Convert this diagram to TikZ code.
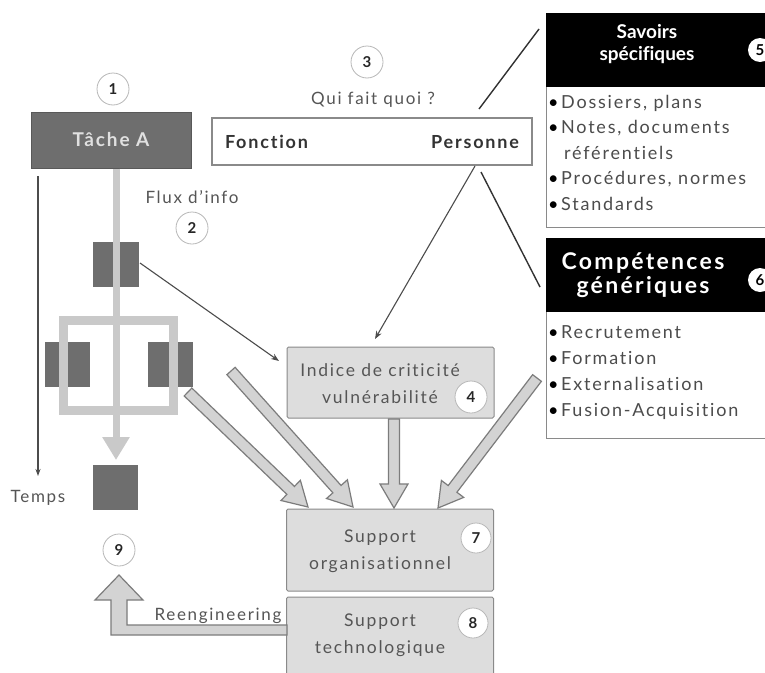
\documentclass[tikz,border=0pt]{standalone}
\usepackage{fontspec}
\setmainfont[LetterSpace=10, Ligatures=NoCommon]{Lato}
\newfontfamily\plainlato[Ligatures=NoCommon]{Lato}
\usetikzlibrary{calc,arrows.meta}

\definecolor{darkbox}{HTML}{6E6E6E}
\definecolor{flowgray}{HTML}{C9C9C9}
\definecolor{panelgray}{HTML}{DDDDDD}
\definecolor{edgegray}{HTML}{8A8A8A}
\definecolor{txtgray}{HTML}{555555}
\definecolor{arrowfill}{HTML}{D3D3D3}
\definecolor{arrowedge}{HTML}{7C7C7C}

\tikzset{
  numcirc/.style={circle, draw=black!28, fill=white, line width=0.8pt,
    minimum size=32pt, inner sep=0pt, text=black!85,
    font=\plainlato\fontsize{15}{15}\selectfont\bfseries},
  smallcirc/.style={circle, fill=white, minimum size=24pt, inner sep=0pt,
    text=black, font=\plainlato\fontsize{15}{15}\selectfont\bfseries},
  panel/.style={draw=edgegray, fill=panelgray, line width=1pt,
    rounded corners=1.5pt, minimum width=207pt},
  paneltext/.style={text=txtgray, font=\fontsize{17.5}{27}\selectfont, align=center},
  label/.style={text=txtgray, font=\fontsize{17}{20}\selectfont},
  item/.style={anchor=base west, inner sep=0pt, text=black!70,
    font=\fontsize{18}{20}\selectfont},
  darkrect/.style={fill=darkbox},
  flow/.style={draw=flowgray, line width=7pt},
  thinarrow/.style={draw=black!70, line width=1.1pt, -{Stealth[length=8pt,width=6pt]}},
  thinline/.style={draw=black!80, line width=1.4pt},
  blkarrow/.style={draw=arrowedge, fill=arrowfill, line width=1.2pt, line join=miter},
}

% hollow block arrow from #1 to #2
\newcommand\blockarrow[2]{%
  \coordinate (ba-c) at ($(#2)!24pt!(#1)$);
  \path[blkarrow]
    ($(#1)!5.5pt!90:(#2)$) -- ($(ba-c)!5.5pt!90:(#2)$) --
    ($(ba-c)!14pt!90:(#2)$) -- (#2) -- ($(ba-c)!14pt!-90:(#2)$) --
    ($(ba-c)!5.5pt!-90:(#2)$) -- ($(#1)!5.5pt!-90:(#2)$) -- cycle;
}
\newcommand\bul{\textcolor{black}{•}\hspace{2.5pt}}

\begin{document}
\begin{tikzpicture}[x=1pt, y=-1pt]
\useasboundingbox (0,0) rectangle (765,672);
\clip (0,0) rectangle (765,672);
\fill[white] (0,0) rectangle (765,672);

% ---- task flow on the left ----
\node[numcirc] (n1) at (113,89) {1};
\node[fill=darkbox, draw=black!65, line width=1pt, minimum width=160pt,
      minimum height=56pt, text=black!12, font=\fontsize{19}{20}\selectfont\bfseries]
      (task) at (111,140) {Tâche A};

\fill[darkrect] (93,242) rectangle (139,287);
\coordinate (pairR) at (140,263);
\fill[darkrect] (45,342) rectangle (90,387);
\fill[darkrect] (148,342) rectangle (193,387);
\node[fill=darkbox, minimum width=45pt, minimum height=45pt, inner sep=0pt] (endsq) at (115.5,487.5) {};

\draw[flowgray, line width=9pt] (63.5,320.5) rectangle (173,410.5);
\coordinate (flowend) at (116,460);
\draw[flow, -{Triangle[length=23pt,width=26pt]}] (task.south -| flowend) -- (flowend);

\node[label] (flux) at (192,197) {Flux d'info};
\node[numcirc] (n2) at (192,228) {2};

\coordinate (t0) at (38,176);
\coordinate (t1) at (38,476);
\draw[draw=black!70, line width=1.1pt, -{Stealth[length=7pt,width=5pt]}] (t0) -- (t1);
\node[label] (temps) at (38,498) {Temps};

% ---- who does what ----
\node[numcirc] (n3) at (367,62) {3};
\node[label] (qui) at (373,100) {Qui fait quoi ?};
\node[draw=edgegray, line width=1.2pt, fill=white, minimum width=320pt,
      minimum height=47pt, text width=294pt, inner xsep=13pt,
      text=black!80, font=\fontsize{18}{20}\selectfont\bfseries]
      (fp) at (372,141.5) {Fonction\hfill Personne};

% ---- specific knowledge ----
\draw[edgegray, line width=1pt, fill=white] (546,13) rectangle (775,227);
\node[fill=black, minimum width=229pt, minimum height=74pt, anchor=north west,
      inner sep=0pt] (savh) at (546,13) {};
\node[text=white, align=center, font=\plainlato\fontsize{19}{22}\selectfont\bfseries]
      (savt) at (647,44) {Savoirs\\spécifiques};
\node[smallcirc] (n5) at (760,50) {5};
\node[item] (s1) at (548,108) {\bul Dossiers, plans};
\node[item] (s2) at (548,133.5) {\bul Notes, documents};
\node[item] (s3) at (564,159) {référentiels};
\node[item] (s4) at (548,184.5) {\bul Procédures, normes};
\node[item] (s5) at (548,210) {\bul Standards};

% ---- generic skills ----
\draw[edgegray, line width=1pt, fill=white] (546,238) rectangle (775,438);
\node[fill=black, minimum width=229pt, minimum height=74pt, anchor=north west,
      inner sep=0pt] (comph) at (546,238) {};
\node[text=white, align=center, font=\fontsize{23}{24}\selectfont\bfseries]
      (compt) at (643,275) {Compétences\\génériques};
\node[smallcirc] (n6) at (760,280) {6};
\node[item] (c1) at (548,338) {\bul Recrutement};
\node[item] (c2) at (548,364) {\bul Formation};
\node[item] (c3) at (548,390) {\bul Externalisation};
\node[item] (c4) at (548,416) {\bul Fusion-Acquisition};

\coordinate (fpA) at (479,109);
\coordinate (savA) at (539,29);
\draw[thinline] (fpA) -- (savA);
\coordinate (fpB) at (481,172);
\coordinate (compA) at (540,287);
\draw[thinline] (fpB) -- (compA);

% ---- criticality index ----
\node[panel, minimum height=71pt] (ind) at (390.5,382.5) {};
\node[paneltext] (indt) at (380,384) {Indice de criticité\\vulnérabilité};
\node[numcirc] (n4) at (471,397) {4};

\coordinate (fpC) at (475,166);
\coordinate (indN) at (375,339);
\draw[thinarrow] (fpC) -- (indN);
\coordinate (indW) at (279,361);
\draw[thinarrow] (pairR) -- (indW);

% ---- supports ----
\node[panel, minimum height=82pt] (org) at (390,550) {};
\node[paneltext] (orgt) at (380,551) {Support\\organisationnel};
\node[numcirc, minimum size=30pt] (n7) at (476,538) {7};

\node[panel, minimum height=84pt] (tech) at (390,639) {};
\node[paneltext] (techt) at (380,635) {Support\\technologique};
\node[numcirc, minimum size=30pt] (n8) at (473,623) {8};

% ---- block arrows into the organisational support ----
\coordinate (a1s) at (188,392);  \coordinate (a1e) at (308,507);
\coordinate (a2s) at (231,371);  \coordinate (a2e) at (353,507);
\coordinate (a3s) at (394,419);  \coordinate (a3e) at (394,508);
\coordinate (a4s) at (537,378);  \coordinate (a4e) at (438,508);
\blockarrow{a1s}{a1e}
\blockarrow{a2s}{a2e}
\blockarrow{a3s}{a3e}
\blockarrow{a4s}{a4e}

% ---- reengineering ----
\node[numcirc] (n9) at (119,550) {9};
\path[blkarrow] (119,575) -- (143,600) -- (127,600) -- (127,625) -- (287,625)
  -- (287,635) -- (111,635) -- (111,600) -- (95,600) -- cycle;
\node[label, anchor=base] (reeng) at (218,620) {Reengineering};

\end{tikzpicture}
\end{document}
